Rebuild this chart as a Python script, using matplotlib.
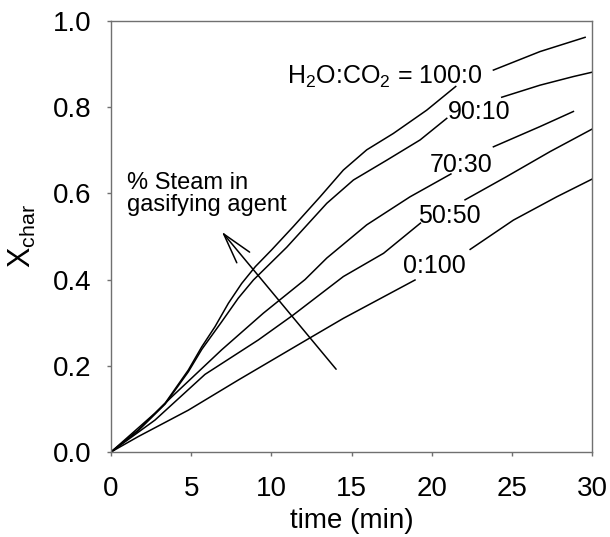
import numpy as np
import matplotlib
matplotlib.use('Agg')
import matplotlib.pyplot as plt

plt.rcParams['font.family'] = ['Liberation Sans', 'DejaVu Sans']
plt.rcParams['mathtext.fontset'] = 'custom'
plt.rcParams['mathtext.rm'] = 'Liberation Sans'
plt.rcParams['mathtext.it'] = 'Liberation Sans:italic'

nan = np.nan

# time (min) and char conversion, NaN = gap where the curve label sits
t_100_0 = [0, 1.71, 3.37, 4.82, 5.66, 6.49, 7.32, 8.15, 9.0, 10.02, 11.37, 13.04,
           14.49, 15.95, 17.61, 19.69, 21.5, nan, 23.85, 26.76, 29.57]
x_100_0 = [0, 0.051, 0.113, 0.190, 0.244, 0.291, 0.345, 0.391, 0.430, 0.469, 0.523, 0.592,
           0.654, 0.701, 0.739, 0.793, 0.848, nan, 0.886, 0.929, 0.962]

t_90_10 = [0, 1.71, 3.37, 4.82, 5.66, 6.9, 7.94, 8.88, 10.96, 13.46, 15.12,
           17.2, 19.28, 20.94, nan, 24.37, 26.76, 28.84, 30.0]
x_90_10 = [0, 0.050, 0.111, 0.186, 0.238, 0.302, 0.357, 0.399, 0.475, 0.577, 0.631,
           0.677, 0.724, 0.774, nan, 0.823, 0.851, 0.871, 0.881]

t_70_30 = [0, 2.74, 3.79, 6.9, 9.5, 12.1, 13.46, 15.95, 18.65, 21.2, nan, 23.85, 26.76, 28.84]
x_70_30 = [0, 0.090, 0.128, 0.237, 0.322, 0.400, 0.450, 0.527, 0.592, 0.645, nan, 0.708, 0.755, 0.790]

t_50_50 = [0, 2.74, 5.86, 9.19, 11.37, 14.49, 17.0, 19.3, nan, 22.08, 24.68, 27.39, 30.0]
x_50_50 = [0, 0.074, 0.180, 0.260, 0.318, 0.407, 0.461, 0.531, nan, 0.585, 0.639, 0.697, 0.749]

t_0_100 = [0, 1.71, 4.82, 7.94, 12.1, 14.49, 18.96, nan, 22.4, 25.1, 27.8, 30.0]
x_0_100 = [0, 0.036, 0.097, 0.167, 0.258, 0.310, 0.399, nan, 0.470, 0.538, 0.592, 0.633]

series = [(t_100_0, x_100_0), (t_90_10, x_90_10), (t_70_30, x_70_30),
          (t_50_50, x_50_50), (t_0_100, x_0_100)]

# curve labels: text, x, y (baseline)
labels = [(r'H$_\mathregular{2}$O:CO$_\mathregular{2}$ = 100:0', 10.98, 0.855),
          ('90:10', 21.04, 0.773),
          ('70:30', 19.9, 0.650),
          ('50:50', 19.17, 0.532),
          ('0:100', 18.24, 0.416)]

xticks = [0, 5, 10, 15, 20, 25, 30]
yticks = [0.0, 0.2, 0.4, 0.6, 0.8, 1.0]

fig = plt.figure(figsize=(6.1, 5.37), dpi=100)
ax = fig.add_axes([0.182, 0.1583, 0.7885, 0.8027])

for t, x in series:
    ax.plot(t, x, color='black', lw=1.1)

for txt, lx, ly in labels:
    ax.text(lx, ly, txt, fontsize=18, ha='left', va='baseline')

ax.text(1.02, 0.558, '% Steam in\ngasifying agent', fontsize=17,
        ha='left', va='baseline', linespacing=1.05)

ax.annotate('', xy=(6.91, 0.511), xytext=(14.04, 0.192),
            arrowprops=dict(arrowstyle='->,head_length=2.2,head_width=0.6',
                            color='black', lw=1.1, shrinkA=0, shrinkB=0))

ax.set_xlim(0, 30)
ax.set_ylim(0, 1.0)
ax.set_xticks(xticks)
ax.set_yticks(yticks)
ax.set_yticklabels(['%.1f' % v for v in yticks])

for s in ax.spines.values():
    s.set_color('#707070')
    s.set_linewidth(1.0)
ax.tick_params(direction='out', length=3, width=1, color='#707070',
               labelsize=20)
ax.tick_params(axis='x', pad=14)
ax.tick_params(axis='y', pad=11)

ax.set_xlabel('time (min)', fontsize=20, labelpad=0)
ax.set_ylabel(r'X$_\mathregular{char}$', fontsize=22)
ax.yaxis.set_label_coords(-0.152, 0.5)
ax.xaxis.set_label_coords(0.5, -0.13)

fig.savefig('out.png', dpi=100)
